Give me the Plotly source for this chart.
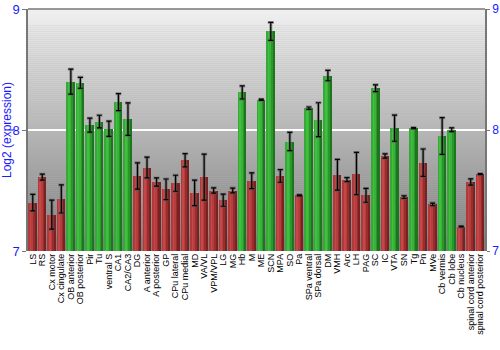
import plotly.graph_objects as go

regions = [
    "LS", "RS", "Cx motor", "Cx cingulate", "OB anterior", "OB posterior", "Pir", "Tu",
    "ventral S", "CA1", "CA2/CA3", "DG", "A anterior", "A posterior", "GP", "CPu lateral",
    "CPu medial", "MD", "VA/VL", "VPM/VPL", "LG", "MG", "Hb", "M", "ME", "SCN", "MPA", "SO",
    "Pa", "SPa ventral", "SPa dorsal", "DM", "VMH", "Arc", "LH", "PAG", "SC", "IC", "VTA",
    "SN", "Tg", "Pn", "MVe", "Cb vermis", "Cb lobe", "Cb nucleus",
    "spinal cord anterior", "spinal cord posterior",
]
expression = [
    7.40, 7.61, 7.30, 7.43, 8.40, 8.39, 8.04, 8.07,
    8.01, 8.23, 8.09, 7.62, 7.69, 7.57, 7.51, 7.56,
    7.75, 7.48, 7.61, 7.50, 7.42, 7.50, 8.31, 7.58, 8.25, 8.815, 7.62, 7.905,
    7.46, 8.18, 8.085, 8.45, 7.63, 7.59, 7.64, 7.46, 8.345, 7.785, 8.015,
    7.445, 8.016, 7.73, 7.385, 7.95, 8.002, 7.202,
    7.57, 7.635,
]
error = [
    0.068, 0.025, 0.12, 0.116, 0.103, 0.045, 0.058, 0.052,
    0.063, 0.07, 0.134, 0.109, 0.085, 0.034, 0.085, 0.066,
    0.054, 0.105, 0.19, 0.022, 0.05, 0.02, 0.054, 0.065, 0.005, 0.074, 0.052, 0.076,
    0.005, 0.01, 0.14, 0.043, 0.127, 0.017, 0.175, 0.057, 0.028, 0.018, 0.108,
    0.011, 0.004, 0.113, 0.011, 0.152, 0.015, 0.003,
    0.026, 0.004,
]
# 1 = enriched region (green), 0 = other (red)
enriched = [
    0, 0, 0, 0, 1, 1, 1, 1,
    1, 1, 1, 0, 0, 0, 0, 0,
    0, 0, 0, 0, 0, 0, 1, 0, 1, 1, 0, 1,
    0, 1, 1, 1, 0, 0, 0, 0, 1, 0, 1,
    0, 1, 0, 0, 1, 1, 0,
    0, 0,
]

# horizontal shading of each bar, left to right
green_shades = ["#38a838", "#40c040", "#39b239", "#2b962b", "#1d751d"]
red_shades = ["#b03a3a", "#c54747", "#b53d3d", "#972d2d", "#7a2121"]

BLUE = "#1a1aff"
bar_w = 0.84
n_slices = len(green_shades)
slice_w = bar_w / n_slices

fig = go.Figure()

# gradient plot background
n_bands = 120
top_c, bot_c = 0xF0, 0x7C
for i in range(n_bands):
    f = i / (n_bands - 1)
    v = int(round(top_c + (bot_c - top_c) * f))
    fig.add_shape(
        type="rect", xref="x domain", yref="y domain",
        x0=0, x1=1, y0=1 - (i + 1) / n_bands, y1=1 - i / n_bands,
        fillcolor=f"rgb({v},{v},{v})", line_width=0, layer="below",
    )

for k in range(n_slices):
    colors = [green_shades[k] if g else red_shades[k] for g in enriched]
    fig.add_trace(go.Bar(
        x=regions, y=expression, base=0,
        width=slice_w, offset=-bar_w / 2 + k * slice_w,
        marker=dict(color=colors, line_width=0),
        hoverinfo="skip", showlegend=False,
    ))

# soft shadow behind the error bars
fig.add_trace(go.Scatter(
    x=regions, y=expression, mode="markers", marker=dict(opacity=0),
    error_y=dict(type="data", array=error, color="rgba(90,90,90,0.55)",
                 thickness=3, width=3),
    showlegend=False, hoverinfo="skip",
))
fig.add_trace(go.Scatter(
    x=regions, y=expression, mode="markers", marker=dict(opacity=0),
    error_y=dict(type="data", array=error, color="black", thickness=1.2, width=2.5),
    showlegend=False, hoverinfo="skip",
))
# anchor for the right-hand axis
fig.add_trace(go.Scatter(
    x=[regions[0]], y=[8], yaxis="y2", mode="markers",
    marker=dict(opacity=0), showlegend=False, hoverinfo="skip",
))

fig.add_shape(type="line", xref="paper", yref="paper", x0=0, x1=1, y0=1, y1=1,
              line=dict(color="#777777", width=1.5))

fig.update_layout(
    width=500, height=350,
    margin=dict(l=28, r=15, t=9, b=99),
    paper_bgcolor="white", plot_bgcolor="#b0b0b0",
    barmode="overlay", bargap=0,
    font=dict(family="Liberation Sans, Arial, sans-serif", color="black"),
    xaxis=dict(
        type="category", tickangle=-90, tickfont=dict(size=9, color="black"),
        tickmode="array", tickvals=regions, ticktext=regions,
        showgrid=False, ticks="", showline=False, range=[-0.5, len(regions) - 0.5],
        automargin=False,
    ),
    yaxis=dict(
        range=[7, 9], tickvals=[7, 8, 9], ticks="outside", ticklen=4,
        tickcolor="#777777", showline=True, linecolor="#777777", linewidth=1.5,
        showgrid=True, gridcolor="white", gridwidth=1.5,
        tickfont=dict(size=13, color=BLUE), zeroline=False, automargin=False,
        title=dict(text="Log2 (expression)", font=dict(size=12, color=BLUE), standoff=6),
    ),
    yaxis2=dict(
        range=[7, 9], tickvals=[7, 8, 9], overlaying="y", side="right",
        ticks="outside", ticklen=3, tickcolor="#777777", showline=True,
        linecolor="#777777", linewidth=1.5, showgrid=False, zeroline=False,
        tickfont=dict(size=12, color=BLUE), automargin=False,
    ),
)

fig.write_html("out.html")
